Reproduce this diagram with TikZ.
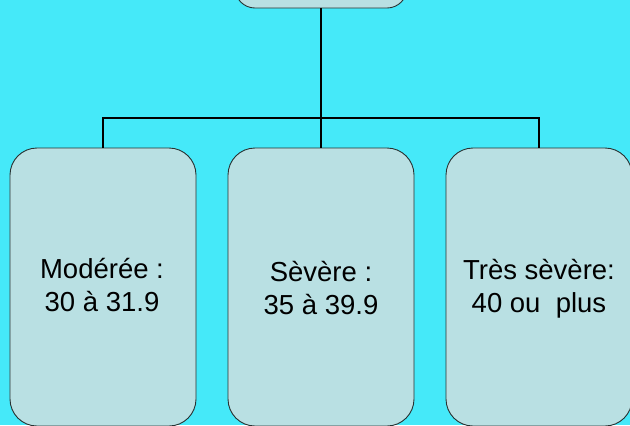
\documentclass[tikz,border=0pt]{standalone}
\usepackage{fontspec}
\setmainfont{Liberation Sans}
\definecolor{bgcyan}{RGB}{69,233,249}
\definecolor{boxfill}{RGB}{185,224,227}
\definecolor{boxline}{RGB}{40,50,50}
\tikzset{
  orgbox/.style={draw=boxline, line width=0.9bp, fill=boxfill, rounded corners=27bp,
    minimum width=186bp, minimum height=278bp, inner sep=0pt},
  boxtext/.style={inner sep=0pt, align=center,
    font=\fontsize{27.5bp}{33bp}\selectfont},
  topbox/.style={draw=boxline, line width=0.9bp, fill=boxfill, rounded corners=20bp,
    minimum width=172bp, minimum height=60bp, inner sep=0pt},
  link/.style={draw=black, line width=1.6bp}
}
\begin{document}
\begin{tikzpicture}[x=1bp,y=-1bp]
\useasboundingbox (0,0) rectangle (630,425);
\fill[bgcyan] (0,0) rectangle (630,425);
\clip (0,0) rectangle (630,425);
\node[topbox] (top) at (321,-22) {};
\coordinate (bus) at (321,118);
\node[orgbox] (b1) at (103,287) {};
\node[orgbox] (b2) at (321,287) {};
\node[orgbox] (b3) at (539,287) {};
\node[boxtext] (t1) at (102,285) {Modérée :\\30 à 31.9};
\node[boxtext] (t2) at (321,288) {Sèvère :\\35 à 39.9};
\node[boxtext] (t3) at (539,289) {Très sèvère:\\40 ou\ \ plus};
\draw[link] (top.south) -- (bus);
\draw[link] (bus) -| (b1.north);
\draw[link] (bus) -| (b3.north);
\draw[link] (bus) -- (b2.north);
\end{tikzpicture}
\end{document}
